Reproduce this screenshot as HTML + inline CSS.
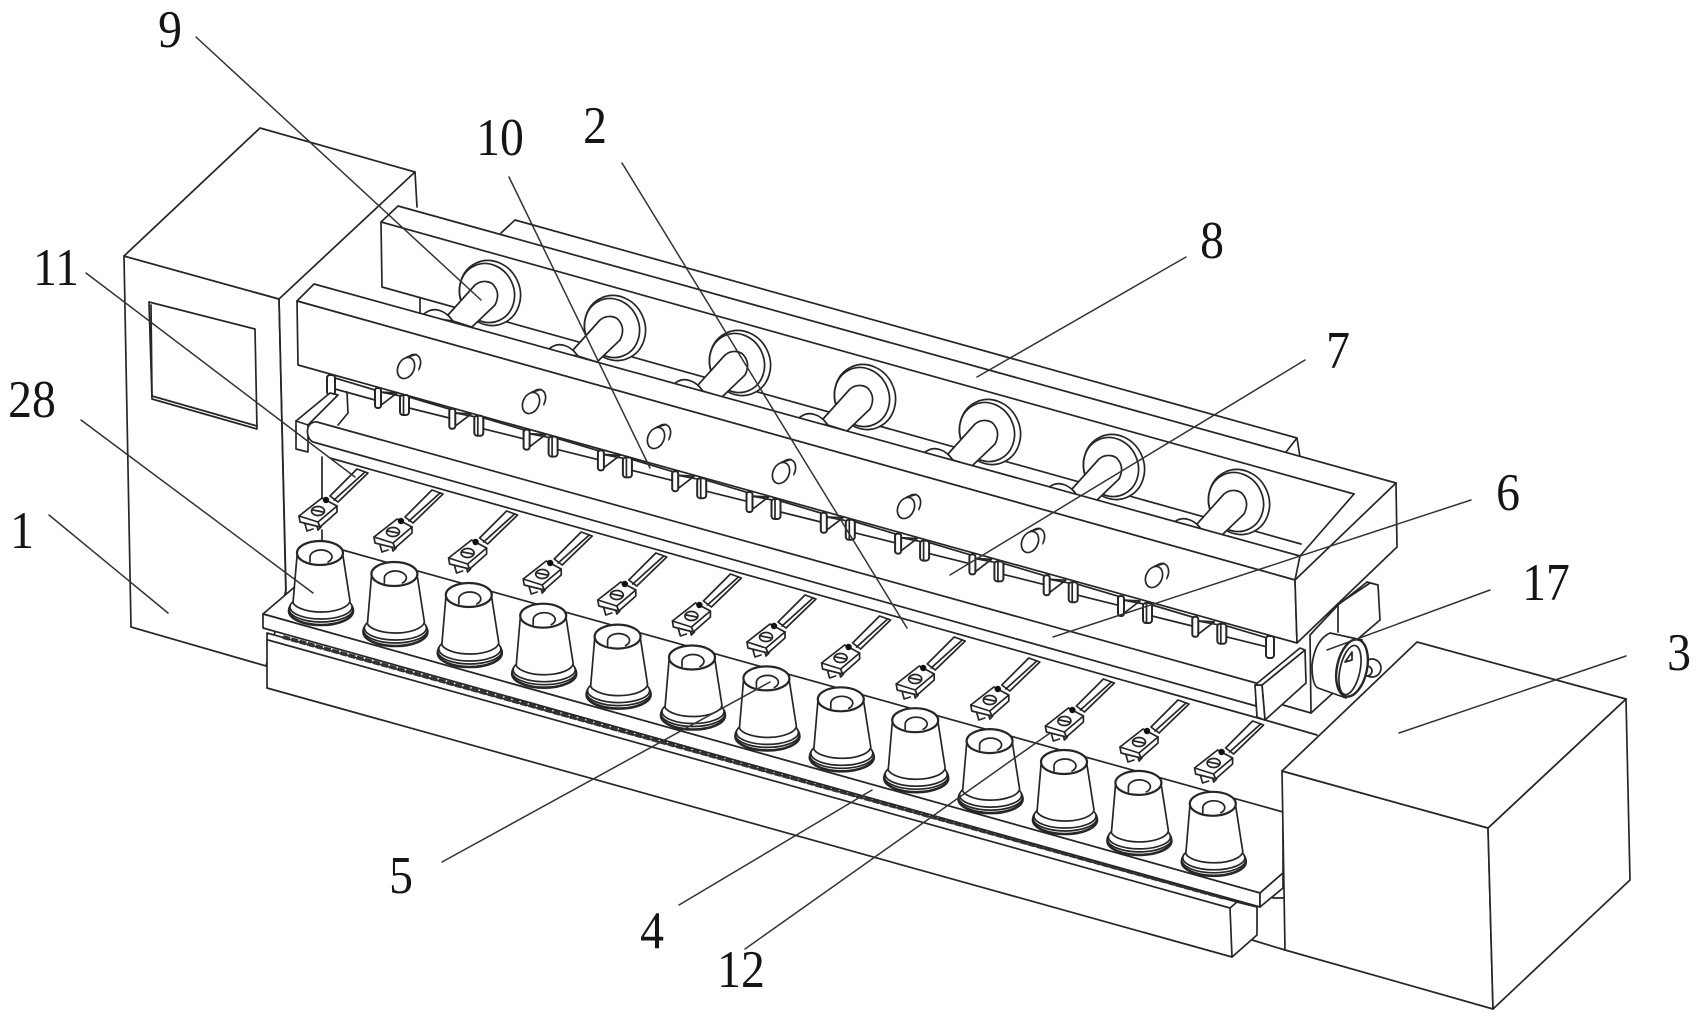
<!DOCTYPE html>
<html><head><meta charset="utf-8"><title>Diagram</title>
<style>
html,body{margin:0;padding:0;background:#fff}
svg{display:block}
.l{fill:#fff;stroke:#262626;stroke-width:1.7;stroke-linejoin:round;stroke-linecap:round}
.n{fill:none;stroke:#262626;stroke-width:1.7;stroke-linejoin:round;stroke-linecap:round}
.t{fill:none;stroke:#333;stroke-width:1.5;stroke-linecap:round}
text{font-family:"Liberation Serif",serif;font-size:53px;text-anchor:middle;fill:#151515}
</style></head><body>
<svg width="1701" height="1020" viewBox="0 0 1701 1020" xmlns="http://www.w3.org/2000/svg">
<defs>
<g id="spool">
 <ellipse class="l" cx="1" cy="58" rx="32" ry="14" style="stroke-width:2.6"/>
 <ellipse class="l" cx="1" cy="56" rx="32" ry="13"/>
 <ellipse class="l" cx="1" cy="54" rx="31" ry="12"/>
 <path class="l" d="M-23,3 L-27,50 A29,12 0 0 0 30,48 L23,3 Z"/>
 <ellipse class="l" cx="0" cy="0" rx="23" ry="12" style="stroke-width:2.2"/>
 <path class="n" d="M-10,9 L-10,4 A11,7 0 0 1 12,4 A11,7 0 0 1 8,9"/>
</g>
<g id="arm">
 <path class="l" d="M12,-17 L39,-44 L50,-40 L20,-11 Z"/>
 <path class="n" d="M16,-13 L47,-41"/>
 <path class="n" d="M-13,11 L-11,18 L-5,16 M-1,13 L0,17 L3,14"/>
 <path class="l" d="M-19,3 L4,-15 L19,-7 L19,-1 L2,14 L-18,9 Z"/>
 <path class="n" d="M-19,3 L0,9 L19,-7 M0,9 L2,14"/>
 <ellipse class="l" cx="0" cy="-2" rx="6.5" ry="4.5"/>
 <path class="n" d="M-5,-3 L5,-1"/>
 <circle cx="8" cy="-13" r="3.2" fill="#111"/>
</g>
<g id="disc">
 <path class="l" d="M-66,22 Q-58,14 -48,18 Q-42,20 -36,28 L-66,24 Z"/>
 <ellipse class="l" cx="1" cy="0" rx="30" ry="33" transform="rotate(-25 1 0)"/>
 <ellipse class="n" cx="-2" cy="0" rx="27" ry="30" transform="rotate(-25 -2 0)"/>
 <path class="l" d="M-41,22 L-14,-8 C-8,-13 2,-13 6,-6 C10,0 9,6 6,12 L-17,34 L-36,28 Z"/>
</g>
<g id="screw">
 <ellipse class="l" cx="4" cy="-2" rx="8" ry="11" transform="rotate(25 4 -2)"/>
 <path d="M-3,-9 L8,-12 L11,7 L0,12 L-10,6 Z" fill="#fff"/>
 <path class="n" d="M-1,-10 L8,-12.5 M-6,11 L1,8"/>
 <ellipse class="l" cx="-2" cy="1" rx="8" ry="11" transform="rotate(25 -2 1)"/>
</g>
<g id="pair">
 <path class="l" d="M34,9 L74.3,21 L74.3,30 L34,20 Z"/>
 <path class="l" d="M5,4 L22,5 L5,18 Z"/>
 <path class="n" d="M5,4 L26,8"/>
 <rect class="l" x="0" y="0" width="6" height="20" rx="2.5" style="stroke-width:2"/>
 <rect class="l" x="25" y="7" width="9" height="20" rx="3" style="stroke-width:2"/>
 <path class="n" d="M28.5,8 L28.5,26"/>
</g>
</defs>

<!-- cabinet -->
<path class="l" d="M124,256 L279,299 L286,590 L266,666 L131,627 Z"/>
<path class="l" d="M124,256 L260,128 L415,172 L279,299 Z"/>
<path class="n" d="M279,299 L286,600 M415,172 L417,207"/>
<path class="l" d="M149,302 L255,329 L257,429 L152,399 Z"/>
<path class="n" d="M152,396 L257,426 M151,305 L152,396"/>

<!-- rear plate -->
<path class="n" d="M501,233 L515,220 L1297,438 L1300,457 M1297,438 L1286,452"/>

<!-- frame -->
<path d="M398,206 L1396,483 L1397,547 L1297,643 L298,365 L297,301 L381,222 Z" fill="#fff"/>
<path class="n" d="M398,206 L1396,483 M398,206 L381,222 L1354,494 M381,222 L382,287 L1301,544 M420,298 L420,313"/>

<!-- discs -->
<use href="#disc" x="489" y="293"/>
<use href="#disc" x="614" y="328"/>
<use href="#disc" x="739" y="363"/>
<use href="#disc" x="864" y="397"/>
<use href="#disc" x="989" y="432"/>
<use href="#disc" x="1113" y="467"/>
<use href="#disc" x="1238" y="502"/>

<!-- long bar -->
<path class="l" d="M314,284 L1300,556 L1295,580 L297,301 Z"/>
<path class="l" d="M297,301 L1295,580 L1297,643 L298,365 Z"/>
<path class="l" d="M1396,483 L1397,547 L1297,643 L1295,580 Z"/>
<path class="n" d="M1354,494 L1300,556"/>

<use href="#screw" x="408" y="367"/>
<use href="#screw" x="533" y="402"/>
<use href="#screw" x="658" y="437"/>
<use href="#screw" x="783" y="472"/>
<use href="#screw" x="908" y="507"/>
<use href="#screw" x="1032" y="541"/>
<use href="#screw" x="1156" y="576"/>

<!-- rod + clips -->
<path class="l" d="M335,378 L375,390 L375,400 L335,389 Z"/>
<rect class="l" x="327" y="375" width="8" height="20" rx="3" style="stroke-width:2"/>
<use href="#pair" x="375" y="388"/>
<use href="#pair" x="449.3" y="408.8"/>
<use href="#pair" x="523.6" y="429.6"/>
<use href="#pair" x="597.9" y="450.4"/>
<use href="#pair" x="672.2" y="471.2"/>
<use href="#pair" x="746.5" y="492"/>
<use href="#pair" x="820.8" y="512.8"/>
<use href="#pair" x="895.1" y="533.6"/>
<use href="#pair" x="969.4" y="554.4"/>
<use href="#pair" x="1043.7" y="575.2"/>
<use href="#pair" x="1118" y="596"/>
<use href="#pair" x="1192.3" y="616.8"/>
<rect class="l" x="1266" y="636" width="8" height="22" rx="3" style="stroke-width:2"/>

<!-- left bracket -->
<path class="n" d="M347,392 L348,413 L338,425"/>
<path class="l" d="M296,421 L330,393 L338,395 L308,425 L308,452 L296,449 Z"/>
<path class="n" d="M296,421 L308,425"/>

<!-- roller -->
<path class="n" d="M330,458 L1265,720 L1317,735"/>
<path class="l" d="M317,422 L1256,683 L1256,706 L313,442 C305,438 305,421 317,422 Z"/>
<path class="n" d="M322,457 L322,500 M322,530 L322,540"/>

<!-- right post, plate, motor -->
<path class="l" d="M1310,635 L1338,605 L1367,582 L1378,585 L1380,620 L1345,650 L1333,693 L1311,713 Z"/>
<path class="n" d="M1340,603 L1370,583 M1338,605 L1338,632 M1283,705 L1311,713"/>
<circle class="l" cx="1372" cy="668" r="9"/>
<circle class="l" cx="1367" cy="671" r="5"/>
<path class="l" d="M1330,633 Q1315,640 1312,665 Q1312,685 1318,688 L1346,698 L1362,640 Z"/>
<ellipse class="l" cx="1352" cy="668" rx="15" ry="29" transform="rotate(12 1352 668)" style="stroke-width:2.4"/>
<ellipse class="n" cx="1350" cy="670" rx="10" ry="25" transform="rotate(12 1350 670)"/>
<path class="n" d="M1345,662 L1352,652 L1352,660 Z"/>

<!-- right bracket -->
<path class="l" d="M1262,685 L1305,650 L1306,683 L1265,720 Z"/>
<path class="l" d="M1255,685 L1262,685 L1265,720 L1257,717 Z"/>
<path class="l" d="M1255,685 L1300,648 L1305,650 L1262,685 Z"/>

<!-- base block -->
<path class="l" d="M267,633 L1237,902 L1257,907 L1257,935 L1232,957 L267,688 Z"/>
<path class="n" d="M268,640 L1230,908 L1232,957 M1230,908 L1237,902 M1252,940 L1285,950 M1273,898 L1283,898 M1273,890 L1273,898"/>
<path d="M283,637 L1225,898" fill="none" stroke="#333" stroke-width="4" stroke-dasharray="7 1.5"/>

<!-- table plate -->
<path class="l" d="M263,614 L339,549 L1283,812 L1283,873 L1260,893 Z"/>
<path class="l" d="M263,614 L1260,893 L1260,907 L263,628 Z"/>
<path class="l" d="M1260,893 L1283,873 L1283,888 L1260,907 Z"/>

<!-- arms -->
<use href="#arm" x="318" y="513"/>
<use href="#arm" x="393" y="534"/>
<use href="#arm" x="467.6" y="555"/>
<use href="#arm" x="542.2" y="576"/>
<use href="#arm" x="616.8" y="597"/>
<use href="#arm" x="691.4" y="618"/>
<use href="#arm" x="766" y="639"/>
<use href="#arm" x="840.6" y="660"/>
<use href="#arm" x="915.2" y="681"/>
<use href="#arm" x="989.8" y="702"/>
<use href="#arm" x="1064.4" y="723"/>
<use href="#arm" x="1139" y="744"/>
<use href="#arm" x="1213.6" y="765"/>

<!-- spools -->
<use href="#spool" x="320" y="553"/>
<use href="#spool" x="394.4" y="574"/>
<use href="#spool" x="468.8" y="595"/>
<use href="#spool" x="543.2" y="615.7"/>
<use href="#spool" x="617.6" y="636.6"/>
<use href="#spool" x="692" y="657.5"/>
<use href="#spool" x="766.4" y="678.4"/>
<use href="#spool" x="840.8" y="699.3"/>
<use href="#spool" x="915.2" y="720.2"/>
<use href="#spool" x="989.6" y="741.1"/>
<use href="#spool" x="1064" y="762"/>
<use href="#spool" x="1138.4" y="782.9"/>
<use href="#spool" x="1212.8" y="803.8"/>

<!-- right box -->
<path class="l" d="M1282,771 L1488,828 L1493,1009 L1285,950 Z"/>
<path class="l" d="M1488,828 L1626,699 L1630,880 L1493,1009 Z"/>
<path class="l" d="M1282,771 L1417,642 L1626,699 L1488,828 Z"/>

<!-- leader lines -->
<path class="t" d="M196,37 L481,300"/>
<path class="t" d="M509,177 L650,468"/>
<path class="t" d="M622,163 L907,628"/>
<path class="t" d="M86,273 L355,477"/>
<path class="t" d="M81,420 L313,593"/>
<path class="t" d="M49,515 L168,613"/>
<path class="t" d="M442,862 L770,682"/>
<path class="t" d="M679,905 L872,790"/>
<path class="t" d="M745,949 L1050,733"/>
<path class="t" d="M1186,257 L977,377"/>
<path class="t" d="M1305,360 L950,575"/>
<path class="t" d="M1471,500 L1053,637"/>
<path class="t" d="M1490,590 L1327,650"/>
<path class="t" d="M1626,656 L1399,733"/>

<!-- labels -->
<text transform="translate(170,47) scale(.9,1)">9</text>
<text transform="translate(500,155) scale(.9,1)">10</text>
<text transform="translate(595,143) scale(.9,1)">2</text>
<text transform="translate(56,285) scale(.9,1)">11</text>
<text transform="translate(32,417) scale(.9,1)">28</text>
<text transform="translate(1212,258) scale(.9,1)">8</text>
<text transform="translate(1338,368) scale(.9,1)">7</text>
<text transform="translate(1508,510) scale(.9,1)">6</text>
<text transform="translate(1546,600) scale(.9,1)">17</text>
<text transform="translate(1679,670) scale(.9,1)">3</text>
<text transform="translate(22,548) scale(.9,1)">1</text>
<text transform="translate(401,893) scale(.9,1)">5</text>
<text transform="translate(652,948) scale(.9,1)">4</text>
<text transform="translate(741,987) scale(.9,1)">12</text>
</svg>
</body></html>
